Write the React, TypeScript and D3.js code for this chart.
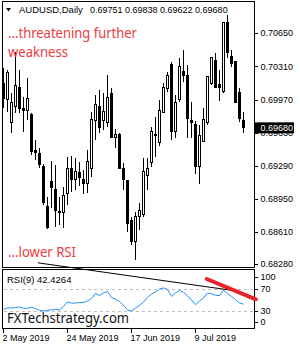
import React from "react";
import * as d3 from "d3";

// ---- data (AUDUSD daily, 2 May 2019 .. 25 Jul 2019) ----
const opens = [0.70140, 0.69966, 0.69730, 0.69894, 0.70089, 0.69874, 0.69863, 0.69812, 0.69443, 0.69412,
  0.69279, 0.68868, 0.69125, 0.69043, 0.68807, 0.68807, 0.69002, 0.69268, 0.69155, 0.69217,
  0.69155, 0.69114, 0.69258, 0.69751, 0.69904, 0.69751, 0.69730, 0.70028, 0.69586, 0.69607,
  0.69268, 0.69135, 0.68725, 0.68519, 0.68766, 0.68786, 0.69186, 0.69320, 0.69607, 0.69525,
  0.69833, 0.70079, 0.70325, 0.69638, 0.69966, 0.70263, 0.70212, 0.69751, 0.69710, 0.69279,
  0.69545, 0.69730, 0.70140, 0.70376, 0.70120, 0.70048, 0.70756, 0.70417, 0.70356, 0.70038,
  0.69751];
const highs = [0.70294, 0.70274, 0.70038, 0.70458, 0.70274, 0.69996, 0.70192, 0.69833, 0.69556, 0.69474,
  0.69309, 0.68971, 0.69340, 0.69299, 0.68971, 0.69073, 0.69381, 0.69391, 0.69371, 0.69330,
  0.69248, 0.69453, 0.69843, 0.70017, 0.70069, 0.70038, 0.70222, 0.70089, 0.69669, 0.69627,
  0.69320, 0.69145, 0.68766, 0.68817, 0.68909, 0.69371, 0.69371, 0.69689, 0.69792, 0.69966,
  0.70140, 0.70253, 0.70356, 0.70017, 0.70397, 0.70479, 0.70325, 0.69945, 0.69751, 0.69710,
  0.69884, 0.70212, 0.70400, 0.70448, 0.70274, 0.70766, 0.70838, 0.70479, 0.70366, 0.70089,
  0.69838];
const lows = [0.69884, 0.69843, 0.69627, 0.69833, 0.69833, 0.69638, 0.69761, 0.69402, 0.69350, 0.69268,
  0.68889, 0.68643, 0.68858, 0.68663, 0.68684, 0.68653, 0.68889, 0.69022, 0.69043, 0.69084,
  0.69002, 0.69012, 0.69176, 0.69556, 0.69627, 0.69658, 0.69689, 0.69576, 0.69474, 0.69258,
  0.69043, 0.68612, 0.68478, 0.68324, 0.68632, 0.68766, 0.69043, 0.69279, 0.69381, 0.69494,
  0.69833, 0.70048, 0.69556, 0.69576, 0.69945, 0.70151, 0.69576, 0.69576, 0.69207, 0.69104,
  0.69535, 0.69710, 0.70120, 0.70089, 0.69956, 0.70040, 0.70397, 0.70305, 0.69935, 0.69740,
  0.69622];
const closes = [0.69986, 0.70243, 0.69945, 0.70110, 0.69874, 0.69853, 0.69986, 0.69433, 0.69422, 0.69299,
  0.68909, 0.68653, 0.69073, 0.68837, 0.68817, 0.68991, 0.69268, 0.69145, 0.69227, 0.69166,
  0.69104, 0.69330, 0.69761, 0.69915, 0.69679, 0.69843, 0.69996, 0.69586, 0.69607, 0.69268,
  0.69155, 0.68694, 0.68519, 0.68766, 0.68837, 0.69237, 0.69268, 0.69638, 0.69600, 0.69853,
  0.70089, 0.70212, 0.69638, 0.69945, 0.70305, 0.70222, 0.69781, 0.69730, 0.69279, 0.69597,
  0.69761, 0.70202, 0.70397, 0.70099, 0.70099, 0.70756, 0.70448, 0.70345, 0.69945, 0.69781,
  0.69680];
const rsiValues = [32.7, 35.8, 35.5, 36.4, 37.6, 34.9, 34.9, 36.9, 34.5, 31.3,
  30.0, 31.3, 32.2, 32.9, 31.8, 38.2, 46.4, 44.2, 44.5, 45.3,
  45.6, 48.2, 52.7, 61.8, 58.2, 62.7, 65.5, 54.5, 51.5, 47.3,
  40.4, 32.2, 30.0, 35.5, 40.0, 46.4, 54.5, 61.3, 64.5, 70.0,
  72.0, 69.1, 56.4, 62.7, 67.6, 63.8, 57.6, 50.0, 41.3, 48.5,
  53.6, 62.7, 61.3, 58.4, 58.2, 67.8, 61.8, 56.4, 50.7, 44.5,
  42.4];

const priceTicks = [0.7065, 0.7031, 0.6997, 0.6963, 0.6929, 0.6895, 0.6861, 0.6828];
const priceTickLabels = ["0.70650", "0.70310", "0.69970", "0.69630", "0.69290", "0.68950", "0.68610", "0.68280"];
const rsiLevels = [100, 70, 30, 0];
const rsiDashed = [70, 30];
const dateTickIndex = [0, 16, 32, 48];
const dateTickLabels = ["2 May 2019", "24 May 2019", "17 Jun 2019", "9 Jul 2019"];
const symbolTitle = "AUDUSD,Daily";
const ohlcTitle = "0.69751 0.69838 0.69622 0.69680";
const lastPrice = 0.6968;
const lastPriceLabel = "0.69680";
const rsiTitle = "RSI(9) 42.4264";
const rsiTrendBlack = [[8.6, 117.6], [59.1, 65.5]];
const rsiTrendRed = [[50.8, 88.2], [63.1, 51.3]];
const noteTop = ["...threatening further", "weakness"];
const noteBottom = "...lower RSI";
const watermark = "FXTechstrategy.com";

const W = 300, H = 350;
const L = 2.5, R = 254.5, T = 1.5, MB = 267.5, RT = 269.5, RB = 328.5;

export default function App() {
  const x = d3.scaleLinear().domain([0, 60]).range([3.5, 243.5]);
  const y = d3.scaleLinear().domain([0.6828, 0.7065]).range([264.3, 33.3]);
  const ry = d3.scaleLinear().domain([30, 70]).range([311, 289]);
  const rsiLine = d3.line<number>().x((_, i) => x(i)).y((v) => ry(v));
  const trendLine = d3.line<number[]>().x((d) => x(d[0])).y((d) => ry(d[1]));
  const axisFont = "'Liberation Sans', Arial, sans-serif";
  const noteFont = "'Noto Sans', 'Open Sans', sans-serif";
  const red = "#ee3a3e";

  return (
    <svg width={W} height={H} style={{ display: "block", position: "absolute", left: 0, top: 0, background: "#fff" }}>
      <rect x={0} y={0} width={W} height={H} fill="#fff" />
      {/* candles */}
      <g shapeRendering="crispEdges">
        {opens.map((o, i) => {
          const c = closes[i];
          const cx = x(i);
          const y0 = y(Math.max(o, c));
          const y1 = y(Math.min(o, c));
          return (
            <g key={i}>
              <line x1={cx} x2={cx} y1={y(highs[i])} y2={y(lows[i])} stroke="#000" strokeWidth={1} />
              <rect x={cx - 1} y={y0} width={2} height={Math.max(y1 - y0, 0.01)}
                fill={c >= o ? "#fff" : "#000"} stroke="#000" strokeWidth={1} />
            </g>
          );
        })}
      </g>

      {/* frames */}
      <g fill="none" stroke="#000" strokeWidth={1} shapeRendering="crispEdges">
        <rect x={L} y={T} width={R - L} height={MB - T} />
        <rect x={L} y={RT} width={R - L} height={RB - RT} />
      </g>

      {/* price axis */}
      <g fontFamily={axisFont} fontSize={9} fill="#000">
        {priceTicks.map((p, i) => (
          <g key={i}>
            <line x1={R} x2={R + 3} y1={Math.round(y(p)) + 0.5} y2={Math.round(y(p)) + 0.5} stroke="#000" shapeRendering="crispEdges" />
            <text x={R + 6} y={y(p)} dy="0.35em">{priceTickLabels[i]}</text>
          </g>
        ))}
        <rect x={R + 0.5} y={y(lastPrice) - 5.5} width={39} height={11} fill="#000" />
        <text x={R + 6} y={y(lastPrice)} dy="0.35em" fill="#fff">{lastPriceLabel}</text>
      </g>

      {/* header */}
      <path d="M6,8 L11,8 L8.5,11.5 Z" fill="#000" />
      <g fontFamily={axisFont} fontSize={9.5} fill="#000">
        <text x={19} y={13}>{symbolTitle}</text>
        <text x={90} y={13} fontSize={9}>{ohlcTitle}</text>
      </g>

      {/* notes */}
      <g fontFamily={noteFont} fontSize={15} fill={red}>
        <text x={8} y={38} textLength={129} lengthAdjust="spacingAndGlyphs">{noteTop[0]}</text>
        <text x={8} y={57} textLength={60} lengthAdjust="spacingAndGlyphs">{noteTop[1]}</text>
        <text x={8} y={257} textLength={68} lengthAdjust="spacingAndGlyphs">{noteBottom}</text>
      </g>

      {/* RSI panel */}
      <g stroke="#c0c0c0" strokeDasharray="3,3" shapeRendering="crispEdges">
        {rsiDashed.map((v) => (
          <line key={v} x1={L + 1} x2={R - 1} y1={Math.round(ry(v)) + 0.5} y2={Math.round(ry(v)) + 0.5} />
        ))}
      </g>
      <path d={rsiLine(rsiValues) || ""} fill="none" stroke="#1e90ff" strokeWidth={1} />
      <path d={trendLine(rsiTrendBlack) || ""} fill="none" stroke="#000" strokeWidth={1} />
      <path d={trendLine(rsiTrendRed) || ""} fill="none" stroke="#e8232b" strokeWidth={4} strokeLinecap="round" />
      <text x={7} y={283} fontFamily={axisFont} fontSize={9.5} fill="#000">{rsiTitle}</text>
      <g fontFamily={axisFont} fontSize={9} fill="#000">
        {rsiLevels.map((v) => {
          const yy = Math.min(Math.max(ry(v), 276.7), 322.3);
          return (
            <g key={v}>
              <line x1={R} x2={R + 3} y1={Math.round(yy) + 0.5} y2={Math.round(yy) + 0.5} stroke="#000" shapeRendering="crispEdges" />
              <text x={R + 6} y={yy} dy="0.35em">{v}</text>
            </g>
          );
        })}
      </g>
      <text x={7} y={323} fontFamily={noteFont} fontSize={14} fill="#111" textLength={122} lengthAdjust="spacingAndGlyphs">{watermark}</text>

      {/* date axis */}
      <g fontFamily={axisFont} fontSize={9} fill="#000">
        {dateTickIndex.map((idx, k) => (
          <g key={k}>
            <line x1={x(idx)} x2={x(idx)} y1={RB} y2={RB + 4} stroke="#000" shapeRendering="crispEdges" />
            <text x={x(idx) - 1} y={341}>{dateTickLabels[k]}</text>
          </g>
        ))}
      </g>
    </svg>
  );
}
